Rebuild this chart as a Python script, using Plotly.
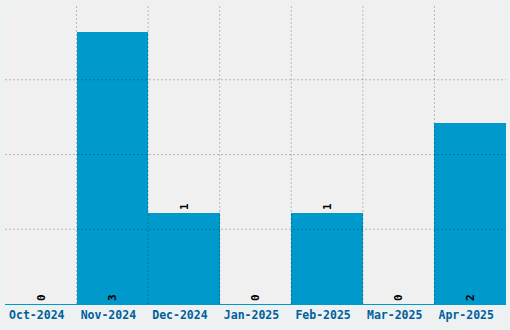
import plotly.graph_objects as go

months = ["Oct-2024", "Nov-2024", "Dec-2024", "Jan-2025", "Feb-2025", "Mar-2025", "Apr-2025"]
counts = [0, 3, 1, 0, 1, 0, 2]
y_max = 3.3
grid_step = y_max / 4

positions = ["inside" if c >= 2 else "outside" for c in counts]

fig = go.Figure(go.Bar(
    x=months, y=counts,
    marker=dict(color="#0099cc", line=dict(width=0)),
    text=[str(c) for c in counts],
    textposition=positions,
    insidetextanchor="start",
    textangle=-90,
    textfont=dict(family="DejaVu Sans Mono", size=11, color="#000000", weight="bold"),
    cliponaxis=False,
))

shapes = []
for i in range(1, len(months)):
    shapes.append(dict(type="line", xref="x", yref="paper", x0=i - 0.5, x1=i - 0.5, y0=0, y1=1,
                       line=dict(color="rgba(0,0,0,0.24)", width=1, dash="2px,2px"), layer="above"))
k = 1
while k * grid_step < y_max - 1e-9:
    shapes.append(dict(type="line", xref="paper", yref="y", x0=0, x1=1, y0=k * grid_step, y1=k * grid_step,
                       line=dict(color="rgba(0,0,0,0.24)", width=1, dash="2px,2px"), layer="above"))
    k += 1

fig.update_layout(
    width=510, height=330,
    margin=dict(l=5, r=4, t=5, b=26),
    paper_bgcolor="#eef1f2",
    plot_bgcolor="#f0f0f0",
    bargap=0,
    showlegend=False,
    shapes=shapes,
    xaxis=dict(showgrid=False, showline=True, linecolor="#0099cc", linewidth=1,
               tickfont=dict(family="DejaVu Sans Mono", size=11.5, color="#00609c", weight="bold"),
               ticks="", ticklen=0, ticklabelshift=-4),
    yaxis=dict(range=[0, y_max], showgrid=False, showticklabels=False, zeroline=False, ticks=""),
)

fig.write_html("out.html")
